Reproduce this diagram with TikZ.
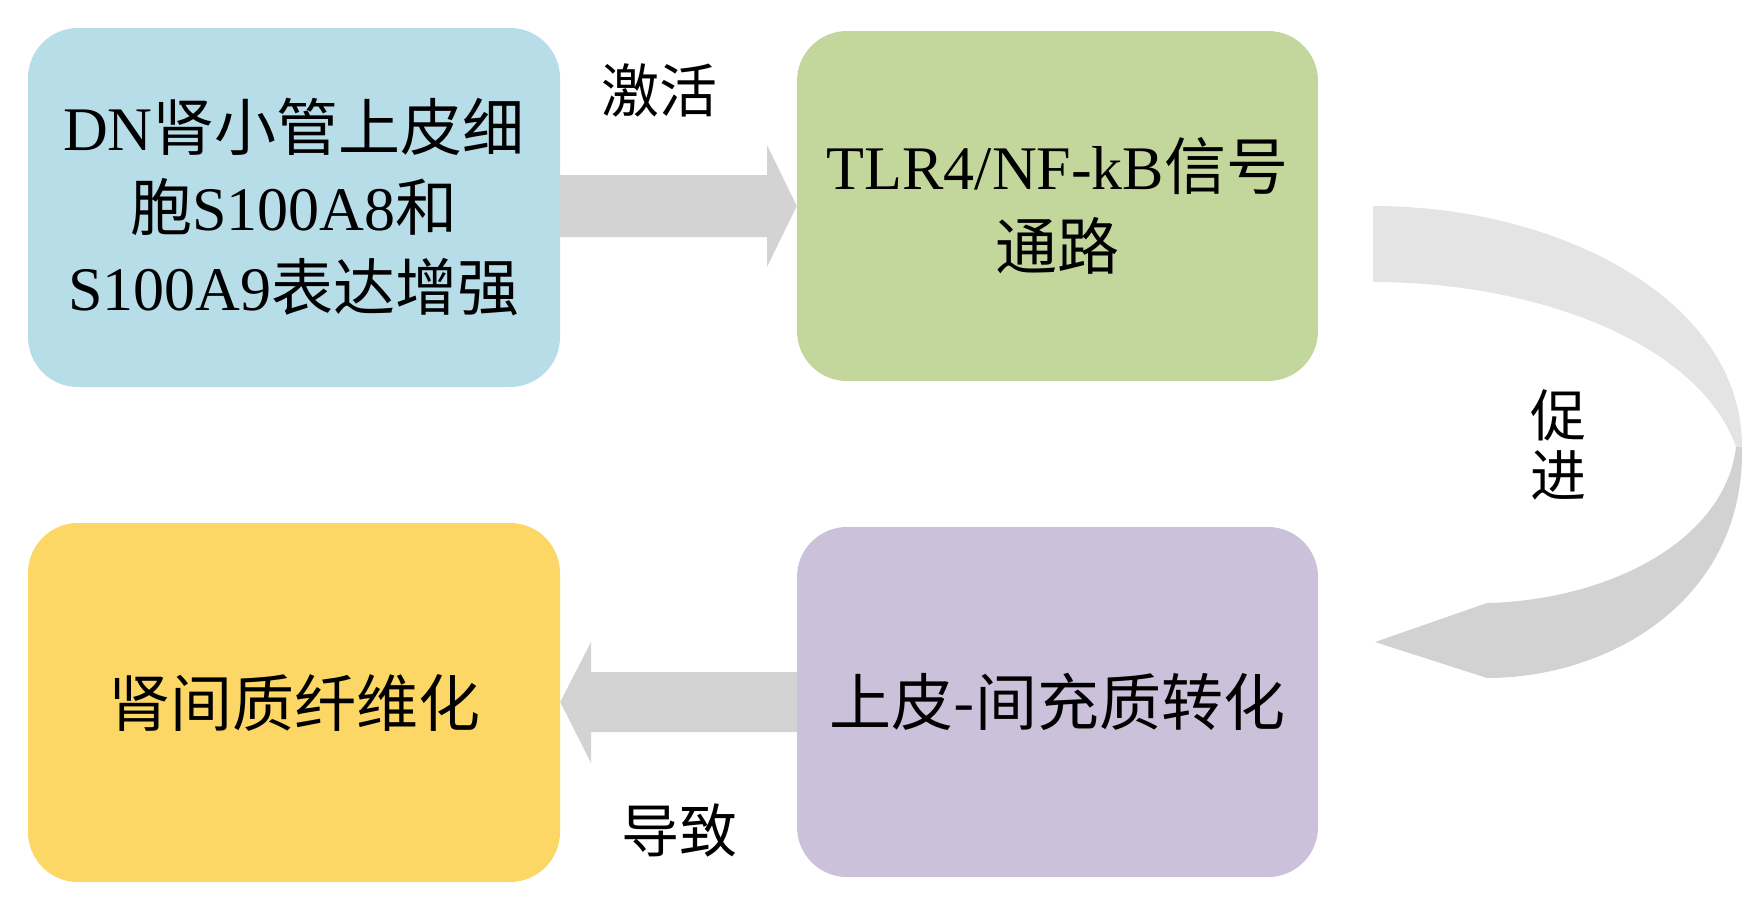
\documentclass[tikz,border=0pt]{standalone}
\usepackage{fontspec}
\setmainfont{Liberation Serif}
\newfontfamily\cjk{Noto Sans CJK SC}
\definecolor{bblue}{HTML}{B7DDE8}
\definecolor{bgreen}{HTML}{C3D69B}
\definecolor{byellow}{HTML}{FDD766}
\definecolor{bpurple}{HTML}{CCC1DA}
\definecolor{arrgray}{HTML}{D3D3D3}
\definecolor{curvelight}{HTML}{E4E4E4}
\definecolor{curvedark}{HTML}{D2D2D2}
\begin{document}
\begin{tikzpicture}[x=1pt,y=-1pt,
  box/.style={rounded corners=50pt, inner sep=0pt, align=center,
    font=\fontsize{62}{80}\selectfont},
  lbl/.style={inner sep=0pt, align=center, font=\fontsize{58}{60}\selectfont\cjk}]
\useasboundingbox (0,0) rectangle (1759,913);
\node[box, fill=bblue, minimum width=532pt, minimum height=359pt] (b1) at (294,207.5)
  {DN{\cjk 肾小管上皮细}\\{\cjk 胞}S100A8{\cjk 和}\\S100A9{\cjk 表达增强}};
\node[box, fill=bgreen, minimum width=521pt, minimum height=350pt] (b2) at (1057.5,206)
  {TLR4/NF-kB{\cjk 信号}\\{\cjk 通路}};
\node[box, fill=byellow, minimum width=532pt, minimum height=359pt] (b3) at (294,702.5)
  {\cjk 肾间质纤维化};
\node[box, fill=bpurple, minimum width=521pt, minimum height=350pt] (b4) at (1057.5,702)
  {\cjk 上皮-间充质转化};
% straight arrows
\fill[arrgray] (b1.east |- 0,175) -- (767,175) -- (767,145) -- (b2.west |- 0,206)
  -- (767,267) -- (767,237) -- (b1.east |- 0,237) -- cycle;
\fill[arrgray] (b4.west |- 0,672) -- (591,672) -- (591,642) -- (b3.east |- 0,702)
  -- (591,763) -- (591,732) -- (b4.west |- 0,732) -- cycle;
% curved arrow
\fill[curvelight] (1373,206) .. controls (1560,206) and (1742,300) .. (1742,447)
  -- (1736,447) .. controls (1700,345) and (1540,282) .. (1373,282) -- cycle;
\fill[curvedark] (1742,447) .. controls (1745,600) and (1610,678) .. (1487,678)
  -- (1375,642) -- (1487,603) .. controls (1610,600) and (1725,540) .. (1736,447) -- cycle;
% labels
\node[lbl] (l1) at (659,90) {激活};
\node[lbl] (l2) at (679,830) {导致};
\node[lbl, font=\fontsize{56}{60}\selectfont\cjk] (l3) at (1558,445) {促\\进};
\end{tikzpicture}
\end{document}
